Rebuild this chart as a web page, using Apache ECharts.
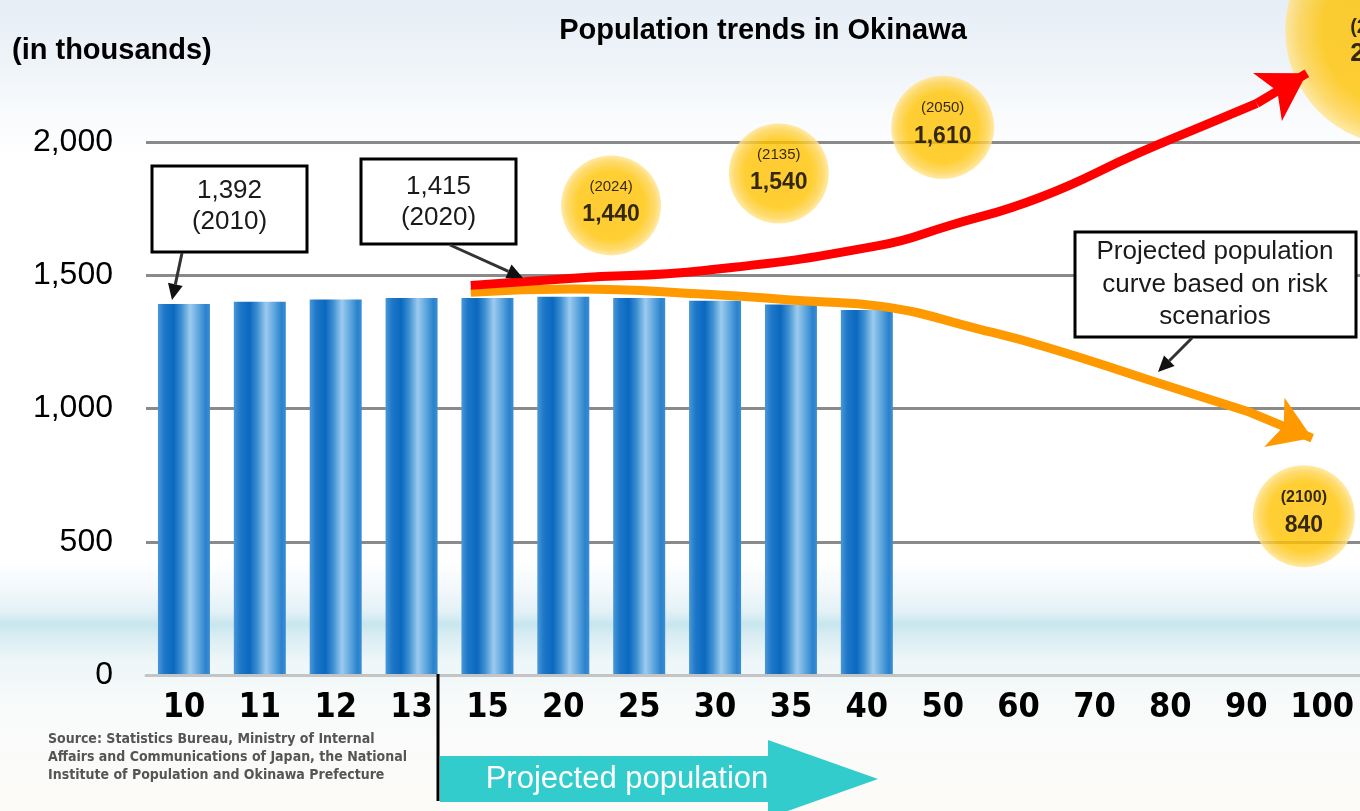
<!DOCTYPE html>
<html>
<head>
<meta charset="utf-8">
<script src="https://cdn.jsdelivr.net/npm/echarts@6/dist/echarts.min.js"></script>
<style>
html,body{margin:0;padding:0;}
body{width:1360px;height:811px;overflow:hidden;
background:linear-gradient(to bottom,#e6eef6 0px,#eef3f8 60px,#f8fafc 110px,#ffffff 160px,#ffffff 560px,#f2f8fb 590px,#e2f1f6 612px,#c8e6ee 624px,#d9edf2 636px,#edf6f8 660px,#f8fafa 700px,#fcfbf8 811px);}
#chart{width:1360px;height:811px;}
</style>
</head>
<body>
<div id="chart"></div>
<script>
// ---- data ----
const categories = ['10','11','12','13','15','20','25','30','35','40','50','60','70','80','90','100'];
const barValues = [1392,1401,1409,1415,1415,1419,1415,1404,1390,1370,null,null,null,null,null,null];
const yTicks = [0,500,1000,1500,2000];

// curves (x = category position index, y = thousands)
const redX = [3.78,5.13,6.89,9.17,10.06,11.28,12.60,13.48,14.14];
const redY = [1462,1489,1519,1612,1684,1792,1961,2066,2145];
const redArrowTip = [14.80,2258];
const orangeX = [3.78,5.13,6.89,8.21,9.17,10.49,11.37,12.69,14.01];
const orangeY = [1436,1448,1429,1403,1384,1297,1230,1110,990];
const orangeArrowTip = [14.87,889];

// bubbles
const bubbleX = [5.63,7.84,10.00,14.76,16.03];
const bubbleY = [1762,1882,2055,596,2419];
const bubbleYear = ['(2024)','(2135)','(2050)','(2100)','(2100)'];
const bubbleVal = ['1,440','1,540','1,610','840','2,000'];

const NARROW = '"Liberation Sans Narrow","Arial Narrow","DejaVu Sans Condensed",sans-serif';
const SANS = '"Liberation Sans",Arial,sans-serif';

function fmt(v){return String(v).replace(/\B(?=(\d{3})+(?!\d))/g, ',');}
function zip(xs, ys){return xs.map((x,i)=>[x, ys[i]]);}

function arrowG(x1,y1,x2,y2,hl,hw){
  const dx=x2-x1, dy=y2-y1, L=Math.hypot(dx,dy), ux=dx/L, uy=dy/L;
  const bx=x2-ux*hl, by=y2-uy*hl, px=-uy, py=ux;
  return [
    {type:'line', z:50, shape:{x1:x1,y1:y1,x2:bx,y2:by}, style:{stroke:'#333',lineWidth:3}},
    {type:'polygon', z:50, shape:{points:[[x2,y2],[bx+px*hw/2,by+py*hw/2],[bx-px*hw/2,by-py*hw/2]]}, style:{fill:'#111'}}
  ];
}
function box(x,y,w,h,lines,cx,ys,fs){
  const g=[{type:'rect', z:40, shape:{x:x,y:y,width:w,height:h}, style:{fill:'#fff',stroke:'#000',lineWidth:3}}];
  lines.forEach((t,i)=>g.push({type:'text', z:41, x:cx, y:ys[i], style:{text:t, fontSize:fs, fontFamily:SANS, fill:'#1a1a1a', align:'center', verticalAlign:'middle'}}));
  return g;
}

const barGrad = {type:'linear',x:0,y:0,x2:1,y2:0,colorStops:[
  {offset:0,color:'#4a98d8'},{offset:0.12,color:'#1f78c8'},{offset:0.3,color:'#0a68bf'},
  {offset:0.45,color:'#3d8fd2'},{offset:0.62,color:'#9ccbee'},{offset:0.78,color:'#5ea6de'},
  {offset:0.92,color:'#2a82cd'},{offset:1,color:'#3a8ed4'}]};
const bubbleGrad = {type:'radial',x:0.5,y:0.5,r:0.5,colorStops:[
  {offset:0,color:'#ffbe00'},{offset:0.68,color:'#ffc300'},{offset:0.88,color:'#ffd24a'},{offset:1,color:'#ffe591'}]};

const chart = echarts.init(document.getElementById('chart'), null, {renderer:'canvas'});

let graphics = [];
graphics.push({type:'text', x:763, y:31, style:{text:'Population trends in Okinawa', fontSize:29, fontWeight:'bold', fontFamily:SANS, fill:'#000', align:'center', verticalAlign:'middle'}});
graphics.push({type:'text', x:12, y:51, style:{text:'(in thousands)', fontSize:29, fontWeight:'bold', fontFamily:SANS, fill:'#000', align:'left', verticalAlign:'middle'}});
graphics = graphics.concat(box(152,166,155,86,['1,392','(2010)'],229.5,[191,222],26));
graphics = graphics.concat(box(361,159,155,85,['1,415','(2020)'],438.5,[187,218],26));
graphics = graphics.concat(box(1075,232,281,105,['Projected population','curve based on risk','scenarios'],1215,[252,285,317],26));
graphics = graphics.concat(arrowG(182,253,172,300,16,15));
graphics = graphics.concat(arrowG(450,245,523,278,16,15));
graphics = graphics.concat(arrowG(1192,338,1158,372,16,15));
// projected population arrow
graphics.push({type:'polygon', z:30, shape:{points:[[440,756],[768,756],[768,740],[878,779],[768,818],[768,802],[440,802]]}, style:{fill:'#33cccc'}});
graphics.push({type:'text', z:31, x:627, y:779, style:{text:'Projected population', fontSize:31, fontFamily:SANS, fill:'#fff', align:'center', verticalAlign:'middle'}});
graphics.push({type:'line', z:32, shape:{x1:438,y1:674,x2:438,y2:801}, style:{stroke:'#000',lineWidth:3}});
graphics.push({type:'text', x:48, y:757, style:{text:'Source: Statistics Bureau, Ministry of Internal\nAffairs and Communications of Japan, the National\nInstitute of Population and Okinawa Prefecture', fontSize:14, fontWeight:'bold', fontFamily:NARROW, fill:'#555', lineHeight:18, align:'left', verticalAlign:'middle'}});

const labelSmall = (i)=>({fontSize: i===3?16:15, fontWeight: i===3?'bold':'normal', fontFamily:SANS, color:'#000', lineHeight:28});

const option = {
  animation:false,
  backgroundColor:'transparent',
  grid:[
    {left:146,right:0,top:142,bottom:136,containLabel:false},
    {left:146,right:0,top:8.75,bottom:136,containLabel:false}
  ],
  xAxis:[
    {type:'category', gridIndex:0, data:categories, boundaryGap:true,
     axisLine:{show:true,lineStyle:{color:'#c4c4c4',width:3}}, axisTick:{show:false},
     axisLabel:{fontSize:34, fontWeight:'bold', fontFamily:NARROW, color:'#000', margin:16, interval:0},
     splitLine:{show:false}, z:5},
    {type:'value', gridIndex:1, min:-0.5, max:15.5, show:false}
  ],
  yAxis:[
    {type:'value', gridIndex:0, min:yTicks[0], max:yTicks[yTicks.length-1], interval:500,
     axisLine:{show:false}, axisTick:{show:false},
     axisLabel:{formatter:fmt, fontSize:32, fontFamily:SANS, color:'#000', margin:33},
     splitLine:{show:true,lineStyle:{color:'#8a8a8a',width:3}}},
    {type:'value', gridIndex:1, min:0, max:2500, show:false}
  ],
  series:[
    {type:'bar', xAxisIndex:0, yAxisIndex:0, data:barValues, barWidth:52, itemStyle:{color:barGrad}, z:2},
    {type:'scatter', xAxisIndex:1, yAxisIndex:1, clip:false, z:3,
     data:bubbleX.map((x,i)=>({value:[x,bubbleY[i]], symbolSize: i===4?230:(i===3?102:(i===2?103:100)),
        label: i===4 ? {show:true, position:[65,100], align:'left', verticalAlign:'top',
            formatter:'{a|'+bubbleYear[i]+'}\n{b|'+bubbleVal[i]+'}',
            rich:{a:{fontSize:20,fontWeight:'bold',fontFamily:SANS,color:'#000',lineHeight:24},b:{fontSize:26,fontWeight:'bold',fontFamily:SANS,color:'#000',lineHeight:28}}}
          : {show:true, position:'inside', offset:[0,-5],
            formatter:'{a|'+bubbleYear[i]+'}\n{b|'+bubbleVal[i]+'}',
            rich:{a:labelSmall(i), b:{fontSize:23,fontWeight:'bold',fontFamily:SANS,color:'#000',lineHeight:28}}}
     })),
     symbol:'circle', itemStyle:{color:bubbleGrad}},
    {type:'line', xAxisIndex:1, yAxisIndex:1, data:zip(orangeX,orangeY), smooth:0.5, showSymbol:false, clip:false, z:6,
     lineStyle:{color:'#ff9900',width:9,cap:'butt'},
     markLine:{silent:true, symbol:['none','arrow'], symbolSize:[40,41], label:{show:false}, animation:false,
       lineStyle:{color:'#ff9900',width:9,type:'solid'},
       data:[[{coord:[orangeX[orangeX.length-1],orangeY[orangeY.length-1]]},{coord:orangeArrowTip}]]}},
    {type:'line', xAxisIndex:1, yAxisIndex:1, data:zip(redX,redY), smooth:0.5, showSymbol:false, clip:false, z:7,
     lineStyle:{color:'#ff0000',width:9,cap:'butt'},
     markLine:{silent:true, symbol:['none','arrow'], symbolSize:[42,46], label:{show:false}, animation:false,
       lineStyle:{color:'#ff0000',width:9,type:'solid'},
       data:[[{coord:[redX[redX.length-1],redY[redY.length-1]]},{coord:redArrowTip}]]}}
  ],
  graphic:graphics
};
chart.setOption(option);
</script>
</body>
</html>
